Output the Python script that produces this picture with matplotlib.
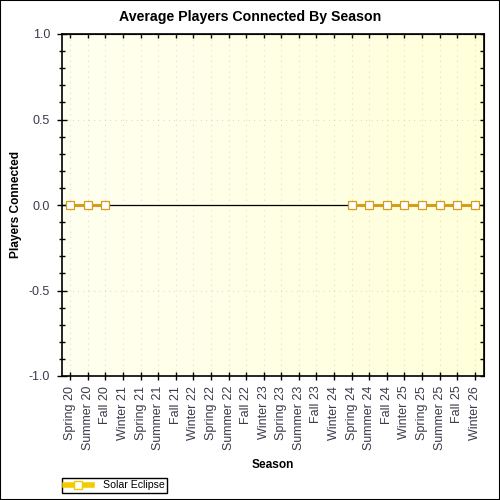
"""
Average players connected by season - recreacion del grafico.
"""
import numpy as np
import matplotlib
matplotlib.use('Agg')
import matplotlib.pyplot as plt
from matplotlib.lines import Line2D
from matplotlib.patches import Rectangle

plt.rcParams['font.family'] = ['Liberation Sans', 'DejaVu Sans']

seasons = ['Spring 20', 'Summer 20', 'Fall 20', 'Winter 21', 'Spring 21', 'Summer 21',
           'Fall 21', 'Winter 22', 'Spring 22', 'Summer 22', 'Fall 22', 'Winter 23',
           'Spring 23', 'Summer 23', 'Fall 23', 'Winter 24', 'Spring 24', 'Summer 24',
           'Fall 24', 'Winter 25', 'Spring 25', 'Summer 25', 'Fall 25', 'Winter 26']
# None = temporada sin datos
solar_eclipse = [0, 0, 0, None, None, None, None, None, None, None, None, None,
                 None, None, None, None, 0, 0, 0, 0, 0, 0, 0, 0]
y_ticks = [-1.0, -0.5, 0.0, 0.5, 1.0]

tick_color = '#3a3a4a'
grid_color = '#c8c8c8'
line_color = '#d49e1c'

fig = plt.figure(figsize=(5, 5), dpi=100)
ax = fig.add_axes([62 / 500, 124 / 500, 422 / 500, 342 / 500])

x = np.arange(len(seasons))
y = np.array([np.nan if v is None else v for v in solar_eclipse], dtype=float)
x0, x1 = -0.47, len(seasons) - 0.47

# fondo degradado (blanco -> amarillo claro)
grad = np.linspace(0, 1, 256).reshape(1, -1)
c0 = np.array([255, 255, 240]) / 255
c1 = np.array([255, 255, 218]) / 255
img = c0 + (c1 - c0) * grad[..., None]
ax.imshow(img, extent=[x0, x1, -1, 1], aspect='auto', zorder=0, interpolation='bilinear')

ax.set_xlim(x0, x1)
ax.set_ylim(-1, 1)

# rejilla punteada
for xi in x:
    ax.axvline(xi, color=grid_color, lw=0.8, linestyle=(0, (0.6, 4.2)), zorder=1)
for yt in y_ticks:
    ax.axhline(yt, color=grid_color, lw=0.8, linestyle=(0, (0.6, 4.2)), zorder=1)
ax.axhline(0, color='black', lw=0.9, zorder=2)

ax.plot(x, y, color=line_color, lw=2.2, marker='s', markersize=5.5,
        markerfacecolor='white', markeredgecolor=line_color, markeredgewidth=0.9, zorder=3)

ax.set_xticks(x)
ax.set_xticklabels(seasons, rotation=90, fontsize=9, color=tick_color)
ax.set_yticks(y_ticks)
ax.set_yticklabels([f'{v:.1f}' for v in y_ticks], fontsize=9, color=tick_color)
ax.set_yticks(np.arange(-1, 1.01, 0.1), minor=True)
ax.tick_params(axis='x', direction='inout', length=6, width=1, pad=4)
ax.tick_params(axis='y', which='major', direction='inout', length=7, width=1, pad=5)
ax.tick_params(axis='y', which='minor', direction='inout', length=5, width=1)

# ticks hacia dentro arriba y a la derecha
ax_top = ax.secondary_xaxis('top')
ax_top.set_xticks(x)
ax_top.tick_params(direction='in', length=3, width=1, labeltop=False)
ax_right = ax.secondary_yaxis('right')
ax_right.set_yticks(np.arange(-1, 1.01, 0.1))
ax_right.tick_params(direction='in', length=3, width=1, labelright=False)

for side in ['left', 'right', 'top', 'bottom']:
    ax.spines[side].set_linewidth(1.2)

fig.text(0.5, 1 - 17 / 500, 'Average Players Connected By Season', ha='center', va='center',
         fontsize=10.2, fontweight='bold')
fig.text(16 / 500, 1 - 205 / 500, 'Players Connected', ha='center', va='center',
         rotation=90, fontsize=8.6, fontweight='bold')
fig.text(273 / 500, 1 - 465 / 500, 'Season', ha='center', va='center',
         fontsize=8.6, fontweight='bold')

handle = Line2D([], [], color='#f2cc00', lw=4, marker='s', markersize=5.5,
                markerfacecolor='white', markeredgecolor='#f2cc00')
leg = fig.legend([handle], ['Solar Eclipse'], loc='lower left',
                 bbox_to_anchor=(62 / 500, 7 / 500), bbox_transform=fig.transFigure,
                 fontsize=7.6, fancybox=False, edgecolor='black', framealpha=1,
                 borderpad=0.25, handlelength=2.6, handletextpad=1.0, borderaxespad=0)
leg.get_frame().set_linewidth(1)

fig.patches.append(Rectangle((0, 0), 1, 1, transform=fig.transFigure, fill=False,
                             edgecolor='black', lw=1.5))

fig.savefig('out.png', dpi=100)
